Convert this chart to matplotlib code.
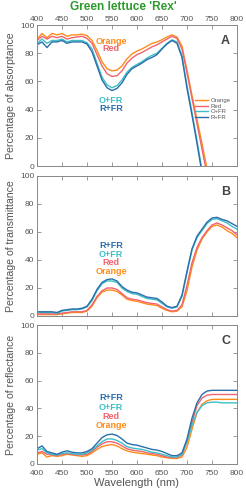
import numpy as np
import matplotlib
matplotlib.use("Agg")
import matplotlib.pyplot as plt

plt.rcParams['font.family'] = ['Liberation Sans', 'DejaVu Sans']

# =====================================
# DATA
# =====================================

wavelength = np.arange(400, 801, 10)

treatments = ["Orange", "Red", "O+FR", "R+FR"]
colors = {"Orange": "#FF8C1A", "Red": "#F0646E", "O+FR": "#3CBFC8", "R+FR": "#2A6EAA"}

absorptance = {
    "Orange": [90, 94, 91, 94, 93, 94, 92, 93, 93, 93.5, 92.5, 89, 82, 74, 69, 67.5, 68, 71, 76, 79.5,
               81.5, 83, 85, 87, 88, 89.5, 91.5, 93, 91.5, 85, 68, 50, 33, 16, -2, -20, -20, -20, -20, -20, -20],
    "Red": [89, 92, 90, 92, 91, 92, 90, 91, 91.5, 92, 90.5, 87, 79, 71, 65.5, 63.5, 64, 67.5, 73, 76.5,
            79, 80.5, 82.5, 84.5, 86, 88, 90, 92, 90.5, 83, 66, 48, 30, 12, -6, -20, -20, -20, -20, -20, -20],
    "O+FR": [87, 90, 87, 89, 89, 90, 88, 89, 89, 89, 87.5, 83, 73, 63, 57.5, 55.5, 57, 61, 66.5, 70,
             72, 74, 76.5, 78.5, 80, 83.5, 87, 89.5, 88, 78, 57, 38, 18, -3, -20, -20, -20, -20, -20, -20, -20],
    "R+FR": [86, 88, 84, 88, 88, 89, 87, 88, 88, 88, 86.5, 81, 71, 61, 55.5, 53.5, 55, 59, 65, 69,
             71, 73, 75.5, 77, 79, 83, 86.5, 89, 87, 77, 55, 36, 16, -5, -20, -20, -20, -20, -20, -20, -20],
}

transmittance = {
    "Orange": [1, 1, 1, 1, 1, 1.5, 2, 2.5, 2.5, 2.5, 3.5, 7, 13, 17, 18.5, 18.5, 17.5, 15, 12, 11,
               10.5, 9.5, 8.5, 8, 7.5, 5.5, 4, 3, 3.5, 6.5, 18, 35, 47, 55, 60, 64, 65, 63.5, 61, 59, 56],
    "Red": [1.5, 1.5, 1.5, 1.5, 1.5, 2, 2.5, 3, 3, 3, 4, 8, 14, 18, 20, 20, 19, 16, 13, 12,
            11.5, 10.5, 9.5, 9, 8.5, 6.5, 4.5, 3.5, 4, 8, 22, 38, 49, 56, 61, 65, 66.5, 65, 63, 61, 58],
    "O+FR": [3, 2.5, 2.5, 2.5, 2, 3.5, 4, 4.5, 4.5, 5, 6.5, 11, 18, 23, 25, 25, 24, 20, 17.5, 16,
             15.5, 14, 12.5, 12, 11.5, 9, 6.5, 5.5, 6.5, 14, 31, 47, 56, 61, 66, 69, 69.5, 68, 66.5, 64, 62],
    "R+FR": [3, 3, 3, 3, 2.5, 4, 4.5, 5, 5, 5.5, 7, 12, 19, 24, 26, 26.5, 25, 21, 18.5, 17,
             16.5, 15, 13.5, 13, 12.5, 10, 7, 6, 7, 15, 32, 48, 57, 62, 67, 70, 70.5, 69, 68, 66, 64],
}

reflectance = {
    "Orange": [7, 8, 5, 6, 5.5, 6, 7, 6.5, 6, 5.5, 6, 8, 10.5, 12.5, 13.5, 14, 13, 11, 9.5, 8.5,
               8, 7.5, 7, 6.5, 6, 5, 4.5, 4, 4, 5, 12, 25, 37, 43, 45.5, 46.5, 46.5, 46.5, 46.5, 46.5, 46.5],
    "Red": [8, 9, 7, 6.5, 6, 7, 7.5, 7, 6.5, 6.5, 7, 9, 12, 14.5, 16, 16, 15, 13, 11, 10,
            9.5, 9, 8, 7.5, 7, 6, 5, 4.5, 4.5, 6.5, 16, 30, 42, 47.5, 49.5, 50, 50, 50, 50, 50, 50],
    "O+FR": [10, 11, 8, 7, 6.5, 7.5, 8, 7.5, 7, 7, 8, 10, 13, 16, 18, 18, 17, 15, 12.5, 11.5,
             11, 10.5, 9.5, 8.5, 8, 7, 6, 5, 5, 7, 16, 28, 37, 42, 44, 44.5, 44.5, 44, 44, 44, 44],
    "R+FR": [11, 13, 9, 8, 7, 8.5, 9.5, 8.5, 8, 8, 9, 11, 15, 19, 21, 21.5, 20.5, 18, 15, 14,
             13.5, 12.5, 11.5, 10.5, 10, 9, 7.5, 6, 6, 8, 18, 33, 44, 50, 52.5, 53, 53, 53, 53, 53, 53],
}

# label stacks: (name, y position in %)
labels_a = [("Orange", 88.5), ("Red", 83), ("O+FR", 46.5), ("R+FR", 40.5)]
labels_b = [("R+FR", 50.5), ("O+FR", 44), ("Red", 38), ("Orange", 31.5)]
labels_c = [("R+FR", 47.5), ("O+FR", 41), ("Red", 34.5), ("Orange", 28)]

# =====================================
# FIGURE
# =====================================

gray = "#555555"
fig = plt.figure(figsize=(2.46, 5.0), dpi=100)

left, width = 37 / 246, 200 / 246
ax_a = fig.add_axes([left, 1 - 166 / 500, width, 141 / 500])
ax_b = fig.add_axes([left, 1 - 316 / 500, width, 140 / 500])
ax_c = fig.add_axes([left, 1 - 464 / 500, width, 139 / 500])

panels = [
    (ax_a, absorptance, "Percentage of absorptance", "A", labels_a),
    (ax_b, transmittance, "Percentage of transmittance", "B", labels_b),
    (ax_c, reflectance, "Percentage of reflectance", "C", labels_c),
]

for ax, data, ylab, letter, lbls in panels:
    for t in treatments:
        ax.plot(wavelength, data[t], color=colors[t], lw=1.0, label=t)
    ax.set_xlim(400, 800)
    ax.set_ylim(0, 100)
    ax.set_xticks(np.arange(400, 801, 50))
    ax.set_yticks(np.arange(0, 101, 20))
    ax.tick_params(direction="in", length=3, width=0.6, color="#888888",
                   labelsize=6, labelcolor=gray, pad=2,
                   top=True, right=True, bottom=True, left=True,
                   labelbottom=False, labeltop=False)
    for s in ax.spines.values():
        s.set_color("#888888")
        s.set_linewidth(0.7)
    ax.set_ylabel(ylab, fontsize=7.6, color=gray, labelpad=3)
    ax.text(0.965, 0.93, letter, transform=ax.transAxes, ha="right", va="top",
            fontsize=9, fontweight="bold", color="#444444")
    for name, yv in lbls:
        ax.text(548, yv, name, ha="center", va="center", fontsize=6.5,
                fontweight="bold", color=colors[name])

ax_a.tick_params(axis="x", labeltop=True, pad=1.5)
ax_c.tick_params(axis="x", labelbottom=True, pad=4)
ax_c.set_xlabel("Wavelength (nm)", fontsize=8, color=gray, labelpad=1)

leg = ax_a.legend(loc="upper left", bbox_to_anchor=(0.77, 0.51), frameon=False,
                  fontsize=4.3, handlelength=2.3, handletextpad=0.4,
                  labelspacing=0.1, borderpad=0.1)
for txt in leg.get_texts():
    txt.set_color(gray)

fig.text(0.5, 0.997, "Green lettuce 'Rex'", ha="center", va="top",
         fontsize=8.6, fontweight="bold", color="#2E9A2E")

plt.savefig("out.png", dpi=100)
